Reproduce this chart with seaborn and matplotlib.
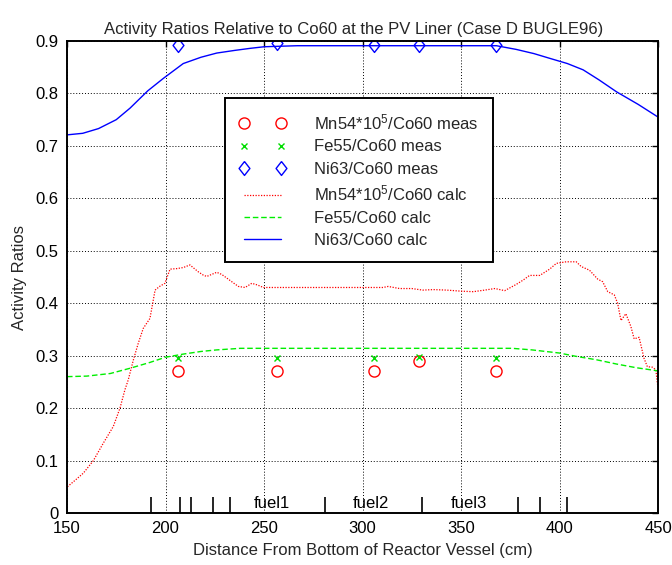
import numpy as np
import pandas as pd
import matplotlib
matplotlib.use("Agg")
import matplotlib.pyplot as plt
import seaborn as sns

# ---------------- data ----------------
meas_x = [206.5, 256.5, 306.0, 328.5, 368.0]
mn54_meas = [0.271, 0.271, 0.271, 0.290, 0.271]
fe55_meas = [0.295, 0.295, 0.295, 0.297, 0.296]
ni63_meas = [0.893, 0.896, 0.893, 0.893, 0.893]

mn54_calc_x = [150.2, 154, 158.3, 163.4, 168.4, 173.5, 176.9, 179.4, 181.1, 183.7,
               186.2, 188.7, 192.1, 193.8, 194.7, 197, 199.7, 202.3, 205.7, 209,
               212.4, 216.6, 219, 220.9, 223.5, 226.0, 228.5, 231.1, 234, 237.0,
               240.4, 243.8, 246.5, 249.7, 260, 280, 300, 310.4, 313, 318.8,
               325, 330.6, 336, 342.8, 350, 356.2, 362, 367.2, 372.2, 378.1,
               381.5, 384.8, 390, 395, 398.4, 403.4, 408.5, 411, 415.2, 419.4,
               421.9, 424.5, 427.8, 429.5, 431.2, 433.7, 436.2, 437.9, 440.4, 442.9,
               444.6, 447.2, 448.9, 449.7, 450]
mn54_calc_y = [0.050, 0.062, 0.076, 0.100, 0.133, 0.165, 0.200, 0.235, 0.254, 0.292,
               0.324, 0.352, 0.371, 0.406, 0.425, 0.432, 0.438, 0.465, 0.466, 0.468,
               0.473, 0.460, 0.454, 0.451, 0.455, 0.459, 0.455, 0.448, 0.440, 0.432,
               0.430, 0.438, 0.435, 0.430, 0.430, 0.430, 0.430, 0.430, 0.432, 0.428,
               0.428, 0.425, 0.426, 0.425, 0.423, 0.422, 0.425, 0.428, 0.424, 0.436,
               0.444, 0.453, 0.453, 0.465, 0.476, 0.479, 0.479, 0.470, 0.463, 0.446,
               0.441, 0.422, 0.416, 0.400, 0.367, 0.380, 0.356, 0.332, 0.335, 0.295,
               0.279, 0.278, 0.273, 0.247, 0.240]

fe55_calc_x = [150, 160, 172, 182, 192, 200, 209, 218, 226, 238,
               300, 376, 386, 400, 408, 419, 429, 439, 450]
fe55_calc_y = [0.260, 0.261, 0.266, 0.276, 0.287, 0.297, 0.303, 0.308, 0.311, 0.314,
               0.314, 0.314, 0.311, 0.305, 0.299, 0.292, 0.284, 0.277, 0.271]

ni63_calc_x = [150, 158, 166, 175, 182, 191, 199, 209, 218, 226, 235, 243, 250, 258,
               267, 368, 378, 387, 395, 404, 412, 420, 429, 440, 450]
ni63_calc_y = [0.721, 0.724, 0.733, 0.750, 0.772, 0.805, 0.829, 0.857, 0.869, 0.877,
               0.882, 0.886, 0.889, 0.890, 0.891, 0.891, 0.884, 0.876, 0.867, 0.857,
               0.845, 0.826, 0.803, 0.779, 0.755]

fuel_bounds = [192.5, 207.5, 213, 224, 232.5, 281, 330, 379, 390, 404]
fuel_labels = ["fuel1", "fuel2", "fuel3"]
fuel_label_x = [245, 295, 345]

x_ticks = [150, 200, 250, 300, 350, 400, 450]
y_ticks = [0, 0.1, 0.2, 0.3, 0.4, 0.5, 0.6, 0.7, 0.8, 0.9]
y_tick_labels = ["0", "0.1", "0.2", "0.3", "0.4", "0.5", "0.6", "0.7", "0.8", "0.9"]

title = "Activity Ratios Relative to Co60 at the PV Liner (Case D BUGLE96)"
xlabel = "Distance From Bottom of Reactor Vessel (cm)"
ylabel = "Activity Ratios"

# ---------------- style ----------------
sns.set_style("white")
plt.rcParams["font.family"] = ["Liberation Sans", "DejaVu Sans"]
plt.rcParams["mathtext.fontset"] = "custom"
plt.rcParams["mathtext.rm"] = "Liberation Sans"
plt.rcParams["mathtext.it"] = "Liberation Sans:italic"
plt.rcParams["mathtext.bf"] = "Liberation Sans:bold"

FS = 12
fig = plt.figure(figsize=(6.72, 5.65), dpi=100)
ax = fig.add_axes([67 / 672, 1 - 513 / 565, 591 / 672, 472 / 565])

diamond = [(0, 1), (0.78, 0), (0, -1), (-0.78, 0), (0, 1)]

mn_lab_meas = "Mn54*10$^{5}$/Co60 meas"
mn_lab_calc = "Mn54*10$^{5}$/Co60 calc"

# measured points
sns.lineplot(x=meas_x, y=mn54_meas, ax=ax, color="red", marker="o", linestyle="none",
             markersize=8, markerfacecolor="none", markeredgecolor="red",
             markeredgewidth=1.0, label=mn_lab_meas, estimator=None, sort=False)
sns.lineplot(x=meas_x, y=fe55_meas, ax=ax, color="#00dd00", marker="x", linestyle="none",
             markersize=5, markeredgecolor="#00dd00", markeredgewidth=1.0,
             label="Fe55/Co60 meas", estimator=None, sort=False)
sns.lineplot(x=meas_x, y=ni63_meas, ax=ax, color="blue", marker=diamond, linestyle="none",
             markersize=10, markerfacecolor="none", markeredgecolor="blue",
             markeredgewidth=1.0, label="Ni63/Co60 meas", estimator=None, sort=False)

# calculated curves
sns.lineplot(x=mn54_calc_x, y=mn54_calc_y, ax=ax, color="red", linestyle=(0, (1, 1.2)),
             linewidth=0.9, label=mn_lab_calc, estimator=None, sort=False)
sns.lineplot(x=fe55_calc_x, y=fe55_calc_y, ax=ax, color="#00ee00", linestyle=(0, (4, 2)),
             linewidth=1.0, label="Fe55/Co60 calc", estimator=None, sort=False)
sns.lineplot(x=ni63_calc_x, y=ni63_calc_y, ax=ax, color="blue", linestyle="-",
             linewidth=1.0, label="Ni63/Co60 calc", estimator=None, sort=False)

# fuel boundary marks and labels
ax.vlines(fuel_bounds, 0, 0.031, color="black", linewidth=1.2)
for lx, lab in zip(fuel_label_x, fuel_labels):
    ax.text(lx, 0.0095, lab, ha="left", va="baseline", fontsize=FS, color="black")

# axes
ax.set_xlim(150, 450)
ax.set_ylim(0, 0.9)
ax.set_xticks(x_ticks)
ax.set_xticklabels([str(v) for v in x_ticks])
ax.set_yticks(y_ticks)
ax.set_yticklabels(y_tick_labels)
ax.tick_params(direction="in", top=True, right=True, length=4, width=1,
               labelsize=FS, pad=6, colors="black")
ax.grid(True, color="black", linestyle=(0, (1, 2)), linewidth=0.7)
for s in ax.spines.values():
    s.set_linewidth(1.4)
    s.set_color("black")

ax.set_title(title, fontsize=12, pad=5, x=0.485)
ax.set_xlabel(xlabel, fontsize=FS, labelpad=5)
ax.set_ylabel(ylabel, fontsize=FS, labelpad=6)

# legend
handles, labels = ax.get_legend_handles_labels()
order = [mn_lab_meas, "Fe55/Co60 meas", "Ni63/Co60 meas",
         mn_lab_calc, "Fe55/Co60 calc", "Ni63/Co60 calc"]
hmap = dict(zip(labels, handles))
leg = ax.legend([hmap[l] for l in order], order, loc="upper left",
                bbox_to_anchor=(0.267, 0.879), borderaxespad=0, numpoints=2,
                fontsize=FS, frameon=True, fancybox=False, shadow=False,
                framealpha=1, edgecolor="black", handlelength=2.8,
                handletextpad=1.7, labelspacing=0.43, borderpad=0.85)
leg.get_frame().set_linewidth(1.4)

fig.savefig("out.png", dpi=100)
